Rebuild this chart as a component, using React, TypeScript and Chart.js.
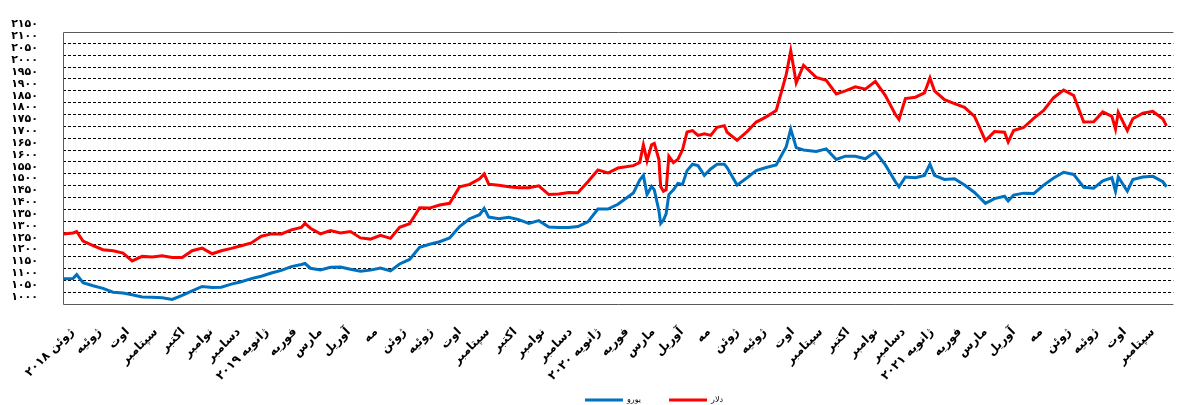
import { useEffect, useRef } from 'react';
import { Chart, registerables } from 'chart.js';

Chart.register(...registerables);

// x = days since 1 June 2018
const days = [
  -10, 1, 5, 12, 23, 34, 45, 56, 66, 77, 88, 99, 110, 121, 132, 143, 154, 164, 175, 186,
  197, 208, 219, 230, 241, 252, 256, 262, 273, 284, 295, 306, 317, 328, 339, 350, 360, 371, 382, 393,
  404, 415, 426, 437, 448, 453, 458, 469, 480, 491, 502, 513, 524, 535, 546, 556, 567, 578, 589, 600,
  617, 624, 628, 632, 637, 640, 645, 647, 650, 653, 656, 661, 666, 671, 676, 682, 688, 695, 702, 709,
  717, 720, 731, 742, 752, 763, 774, 785, 790, 796, 804, 818, 829, 840, 850, 861, 872, 883, 894, 905,
  909, 916, 927, 937, 943, 948, 959, 970, 981, 992, 1004, 1014, 1025, 1029, 1035, 1046, 1057, 1068, 1079, 1090,
  1101, 1112, 1123, 1133, 1143, 1147, 1150, 1160, 1166, 1177, 1188, 1199, 1203,
];

const dollar = [
  1295, 1300, 1306, 1266, 1246, 1229, 1225, 1215, 1182, 1201, 1198, 1204, 1196, 1196, 1225, 1236, 1212, 1225, 1235, 1246,
  1258, 1286, 1296, 1296, 1313, 1323, 1340, 1320, 1296, 1310, 1300, 1306, 1279, 1274, 1290, 1277, 1324, 1339, 1406, 1405,
  1418, 1425, 1495, 1505, 1529, 1549, 1506, 1501, 1495, 1491, 1491, 1499, 1462, 1464, 1471, 1470, 1516, 1566, 1553, 1574,
  1584, 1597, 1672, 1604, 1672, 1678, 1611, 1496, 1476, 1482, 1624, 1597, 1611, 1651, 1726, 1732, 1712, 1719, 1712, 1746,
  1753, 1725, 1691, 1728, 1768, 1790, 1817, 1968, 2069, 1934, 2008, 1957, 1944, 1887, 1900, 1917, 1907, 1940, 1880, 1800,
  1779, 1867, 1873, 1891, 1954, 1900, 1863, 1846, 1830, 1792, 1690, 1728, 1725, 1684, 1732, 1745, 1784, 1817, 1871, 1903,
  1880, 1768, 1769, 1811, 1792, 1738, 1809, 1732, 1782, 1806, 1813, 1782, 1752,
];

const euro = [
  1107, 1108, 1124, 1090, 1077, 1066, 1050, 1046, 1039, 1030, 1028, 1026, 1019, 1036, 1055, 1074, 1070, 1071, 1084, 1094,
  1107, 1117, 1131, 1142, 1158, 1167, 1171, 1151, 1144, 1155, 1156, 1147, 1138, 1143, 1152, 1140, 1169, 1188, 1239, 1252,
  1263, 1279, 1327, 1360, 1377, 1404, 1367, 1360, 1366, 1356, 1340, 1352, 1325, 1323, 1323, 1327, 1347, 1401, 1401, 1421,
  1469, 1523, 1543, 1462, 1496, 1482, 1395, 1340, 1354, 1381, 1462, 1482, 1509, 1505, 1563, 1590, 1584, 1543, 1570, 1590,
  1590, 1576, 1502, 1533, 1563, 1576, 1587, 1664, 1738, 1660, 1650, 1644, 1655, 1610, 1624, 1624, 1613, 1643, 1587, 1516,
  1495, 1536, 1533, 1543, 1590, 1543, 1526, 1529, 1502, 1471, 1425, 1445, 1455, 1435, 1460, 1468, 1466, 1502, 1532, 1556,
  1547, 1493, 1489, 1520, 1533, 1476, 1536, 1476, 1525, 1536, 1539, 1516, 1495,
];

const monthLabels = [
  'ژوئن ۲۰۱۸', 'ژوئیه', 'اوت', 'سپتامبر', 'اکتبر', 'نوامبر', 'دسامبر',
  'ژانویه ۲۰۱۹', 'فوریه', 'مارس', 'آوریل', 'مه', 'ژوئن', 'ژوئیه', 'اوت', 'سپتامبر', 'اکتبر', 'نوامبر', 'دسامبر',
  'ژانویه ۲۰۲۰', 'فوریه', 'مارس', 'آوریل', 'مه', 'ژوئن', 'ژوئیه', 'اوت', 'سپتامبر', 'اکتبر', 'نوامبر', 'دسامبر',
  'ژانویه ۲۰۲۱', 'فوریه', 'مارس', 'آوریل', 'مه', 'ژوئن', 'ژوئیه', 'اوت', 'سپتامبر',
];

const seriesNames = ['یورو', 'دلار'];
const seriesColors = ['#0070C0', '#FF0000'];

const Y_MIN = 1000;
const Y_MAX = 2150;
const Y_STEP = 50;
const X_MIN = -10;
const X_MAX = 1210.6;

const monthTickDays = monthLabels.map(
  (_, i) => Math.round((Date.UTC(2018, 5 + i, 1) - Date.UTC(2018, 5, 1)) / 86400000)
);

const persianDigits = '۰۱۲۳۴۵۶۷۸۹';
const toPersian = (v: number | string) => String(v).replace(/\d/g, (d) => persianDigits[Number(d)]);

const LEGEND_SHIFT = 62;

const framePlugin = {
  id: 'frame',
  beforeDatasetsDraw(chart: any) {
    const { ctx, chartArea } = chart;
    const { left, top, right, bottom } = chartArea;
    ctx.save();
    ctx.strokeStyle = '#595959';
    ctx.lineWidth = 1;
    ctx.beginPath();
    ctx.moveTo(right, Math.round(top) + 0.5);
    ctx.lineTo(Math.round(left) + 0.5, Math.round(top) + 0.5);
    ctx.lineTo(Math.round(left) + 0.5, Math.round(bottom) + 0.5);
    ctx.lineTo(right, Math.round(bottom) + 0.5);
    ctx.stroke();
    ctx.restore();
  },
};

const legendShiftPlugin = {
  id: 'legendShift',
  afterLayout(chart: any) {
    const lg = chart.legend;
    if (lg) {
      lg.left += LEGEND_SHIFT;
      lg.right += LEGEND_SHIFT;
    }
  },
};

export default function App() {
  const canvasRef = useRef<HTMLCanvasElement | null>(null);

  useEffect(() => {
    if (!canvasRef.current) return;
    Chart.defaults.font.family = '"DejaVu Sans", sans-serif';
    const chart = new Chart(canvasRef.current, {
      type: 'line',
      data: {
        datasets: [
          {
            label: seriesNames[0],
            data: days.map((d, i) => ({ x: d, y: euro[i] })),
            borderColor: seriesColors[0],
            backgroundColor: seriesColors[0],
            borderWidth: 3,
            pointRadius: 0,
            tension: 0,
          },
          {
            label: seriesNames[1],
            data: days.map((d, i) => ({ x: d, y: dollar[i] })),
            borderColor: seriesColors[1],
            backgroundColor: seriesColors[1],
            borderWidth: 3,
            pointRadius: 0,
            tension: 0,
          },
        ],
      },
      options: {
        responsive: false,
        animation: false,
        layout: { padding: { top: 20, left: 0, right: 0, bottom: -9 } },
        scales: {
          x: {
            type: 'linear',
            min: X_MIN,
            max: X_MAX,
            bounds: 'data',
            grid: { display: false, drawTicks: false },
            border: { display: false },
            afterBuildTicks: (scale: any) => {
              scale.ticks = monthTickDays.map((v) => ({ value: v }));
            },
            afterFit: (scale: any) => {
              scale.height = 64;
              // let the long rotated labels run below the axis box instead of being clipped
              scale._computeLabelArea = () => undefined;
            },
            ticks: {
              autoSkip: false,
              maxRotation: 45,
              minRotation: 45,
              padding: 21,
              color: '#000',
              font: { size: 12, weight: 'bold' },
              callback: (_v: any, i: number) => monthLabels[i],
            },
          },
          y: {
            type: 'linear',
            min: Y_MIN,
            max: Y_MAX,
            grid: {
              color: (ctx: any) =>
                ctx.tick && (ctx.tick.value === Y_MIN || ctx.tick.value === Y_MAX) ? 'rgba(0,0,0,0)' : '#000',
              lineWidth: 1,
              drawTicks: false,
            },
            border: { display: false, dash: [3, 2] },
            afterFit: (scale: any) => {
              scale.width = 63;
            },
            ticks: {
              stepSize: Y_STEP,
              autoSkip: false,
              padding: 25,
              labelOffset: -7,
              color: '#000',
              font: { size: 11, weight: 'bold' },
              callback: (v: any) => toPersian(v),
            },
          },
        },
        plugins: {
          tooltip: { enabled: false },
          legend: {
            position: 'bottom',
            labels: {
              boxWidth: 38,
              boxHeight: 3,
              padding: 28,
              color: '#000',
              font: { size: 8 },
              generateLabels: (c: any) =>
                Chart.defaults.plugins.legend.labels.generateLabels(c).map((l: any) => ({ ...l, lineWidth: 0 })),
            },
          },
        },
      },
      plugins: [framePlugin, legendShiftPlugin],
    } as any);
    return () => chart.destroy();
  }, []);

  return (
    <div style={{ position: 'absolute', left: 0, top: 0, width: 1184, height: 405, background: '#fff' }}>
      <canvas ref={canvasRef} width={1184} height={405} style={{ display: 'block' }} />
    </div>
  );
}
